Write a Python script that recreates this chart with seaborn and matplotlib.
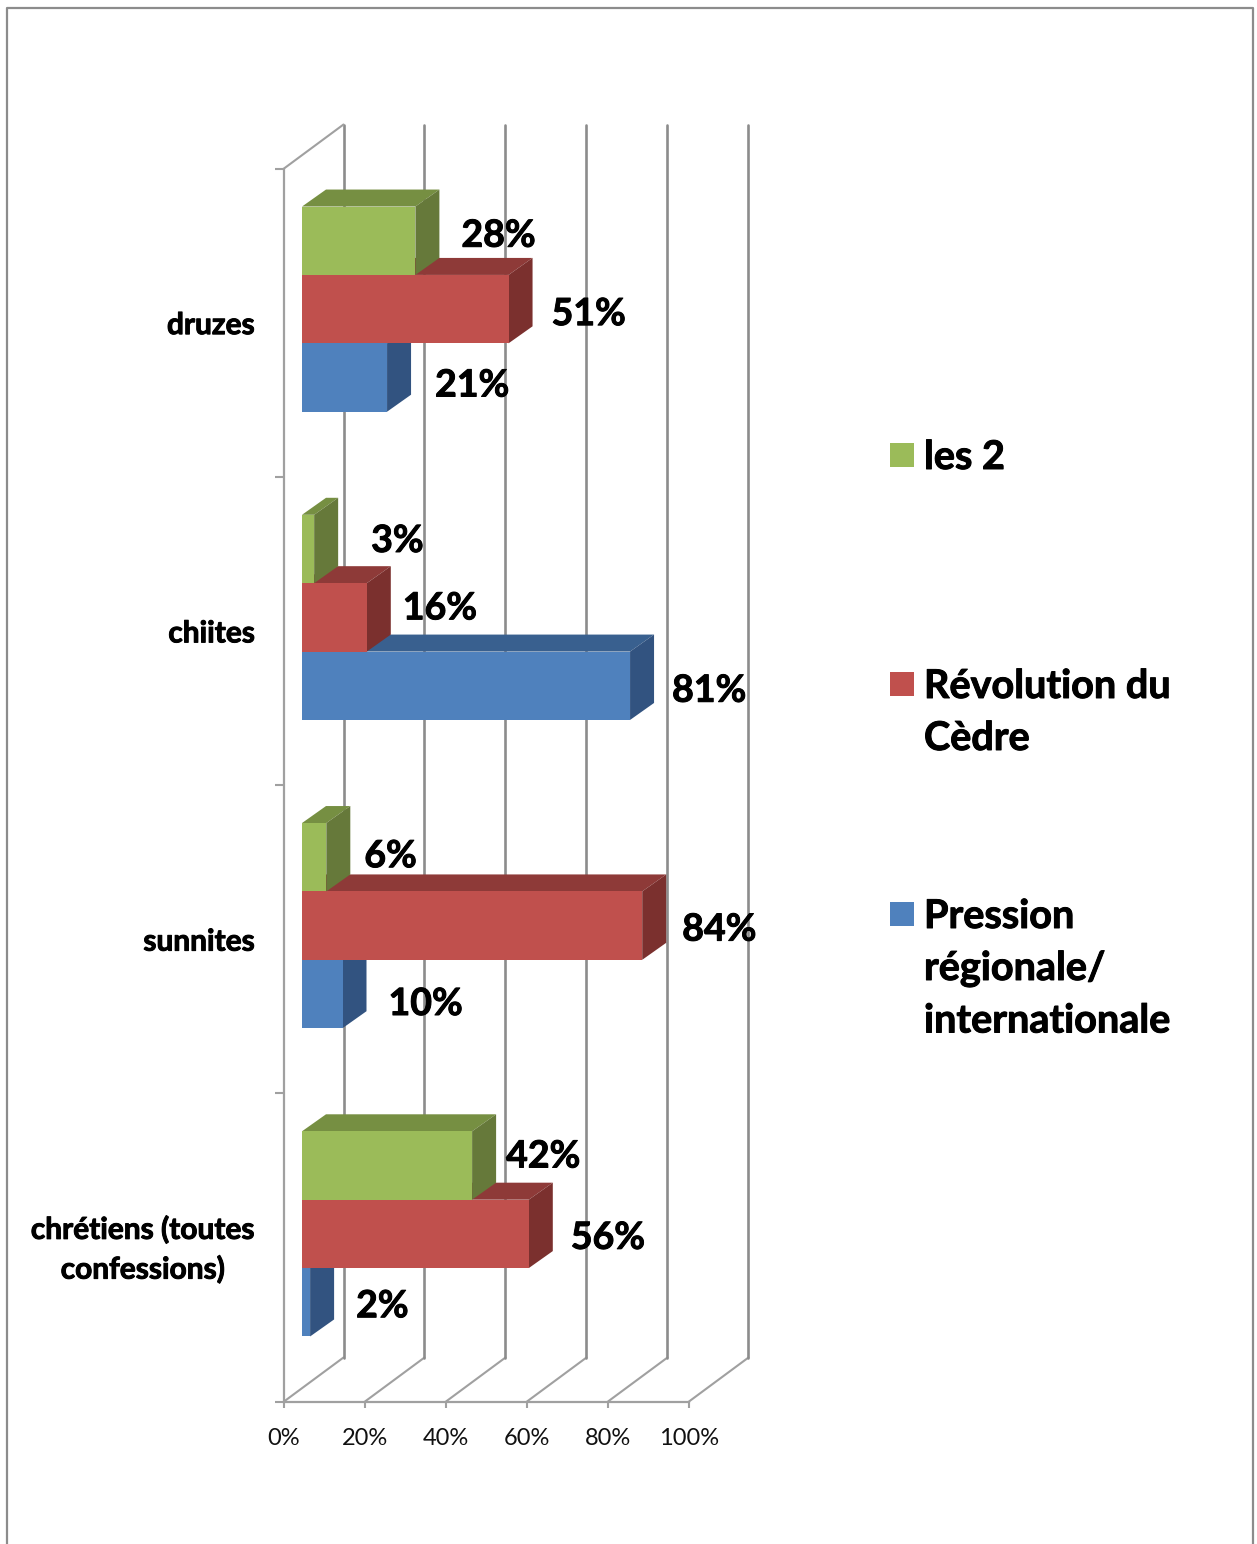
import matplotlib
matplotlib.use("Agg")
import matplotlib.pyplot as plt
import matplotlib.patheffects as pe
from matplotlib.lines import Line2D
from matplotlib.patches import Rectangle
import pandas as pd
import seaborn as sns

# valeurs
groupes = ["druzes", "chiites", "sunnites", "chrétiens (toutes\nconfessions)"]
les_2 = [28, 3, 6, 42]
revolution = [51, 16, 84, 56]
pression = [21, 81, 10, 2]
series = ["les 2", "Révolution du\nCèdre", "Pression\nrégionale/\ninternationale"]
x_ticks = [0, 20, 40, 60, 80, 100]

W, H = 1257, 1544
couleurs = ["#9BBB59", "#C0504D", "#4F81BD"]
dessus = ["#768F42", "#8E3A38", "#39608F"]
cote = ["#66793A", "#7B302E", "#325380"]
GRIS = "#8C8C8C"
gras = [pe.withStroke(linewidth=0.7, foreground="black")]

# decalages des etiquettes (pixels) par rapport au bout de la barre
nudge_x = [[46, 57, 38, 34], [43, 36, 40, 42], [48, 42, 46, 46]]
nudge_y = [[-5, -8, -1, -9], [5, -9, 4, 4], [8, 5, 10, 4]]
# position du texte de legende (pixels, centre de la premiere ligne)
legende_y = [455, 684, 914]


def zone(left, top, right, bottom):
    return [left / W, 1 - bottom / H, (right - left) / W, (bottom - top) / H]


df = pd.DataFrame({
    "groupe": groupes * 3,
    "serie": [s for s in series for _ in groupes],
    "valeur": les_2 + revolution + pression,
})

sns.set_theme(style="white")
plt.rcParams["font.family"] = ["Lato", "DejaVu Sans"]

fig = plt.figure(figsize=(W / 100, H / 100), dpi=100)

# axes du fond : murs et graduations
ax_bg = fig.add_axes(zone(284, 168.5, 689, 1401.5))
ax_bg.set_xlim(0, 100)
ax_bg.set_ylim(3.5, -0.5)
px_x = 100 / 405
px_y = 4 / 1233
mur_x, mur_y = 59.5 * px_x, 44 * px_y

for s in ["top", "right"]:
    ax_bg.spines[s].set_visible(False)
for s in ["left", "bottom"]:
    ax_bg.spines[s].set_color("#A0A0A0")
    ax_bg.spines[s].set_linewidth(1.6)

ax_bg.set_xticks(x_ticks)
ax_bg.set_xticklabels([f"{v}%" for v in x_ticks], fontsize=17, color="#111111")
ax_bg.set_yticks([-0.5, 0.5, 1.5, 2.5, 3.5])
ax_bg.set_yticklabels([])
# le libelle sur deux lignes est un peu plus haut
pos_libelles = [k - (6 * px_y if "\n" in g else 0) for k, g in enumerate(groupes)]
ax_bg.set_yticks(pos_libelles, minor=True)
ax_bg.set_yticklabels(groupes, minor=True, fontsize=21.5, fontweight="bold",
                      color="black", ma="center", linespacing=1.45, path_effects=gras)
ax_bg.tick_params(axis="x", length=4, width=1.5, color="#A0A0A0", pad=14.8, bottom=True)
ax_bg.tick_params(axis="y", which="major", length=6.5, width=1.5, color="#A0A0A0", left=True)
ax_bg.tick_params(axis="y", which="minor", length=0, pad=21)

for v in x_ticks:
    ax_bg.plot([v, v + mur_x], [3.5, 3.5 - mur_y], color="#A0A0A0", lw=1.5, clip_on=False)
    ax_bg.plot([v + mur_x, v + mur_x], [3.5 - mur_y, -0.5 - mur_y], color=GRIS, lw=1.9, clip_on=False)
ax_bg.plot([0, mur_x], [-0.5, -0.5 - mur_y], color="#A0A0A0", lw=1.5, clip_on=False)

# axes des barres, decales vers le milieu de la profondeur
ax = fig.add_axes(zone(302, 155, 707, 1388))
ax.patch.set_alpha(0)
sns.barplot(data=df, x="valeur", y="groupe", hue="serie", order=groupes, hue_order=series,
            palette=couleurs, saturation=1, width=205 / 308, gap=0, linewidth=0,
            errorbar=None, legend=False, orient="h", ax=ax)
ax.set_xlim(0, 100)
ax.set_ylim(3.5, -0.5)
ax.axis("off")

prof_x, prof_y = 24 * px_x, 17 * px_y

for i, conteneur in enumerate(ax.containers):
    for j, bar in enumerate(conteneur):
        # la serie du haut passe devant celle du dessous
        z = 10 + 3 * (2 - i)
        x1 = bar.get_width()
        y0, y1 = bar.get_y(), bar.get_y() + bar.get_height()
        bar.set_zorder(z + 2)
        ax.fill([0, x1, x1 + prof_x, prof_x], [y0, y0, y0 - prof_y, y0 - prof_y],
                color=dessus[i], lw=0, zorder=z, clip_on=False)
        ax.fill([x1, x1 + prof_x, x1 + prof_x, x1], [y0, y0 - prof_y, y1 - prof_y, y1],
                color=cote[i], lw=0, zorder=z + 1, clip_on=False)
        ax.annotate(f"{bar.get_width():.0f}%", xy=(x1, (y0 + y1) / 2),
                    xytext=(nudge_x[i][j] * 0.72, -nudge_y[i][j] * 0.72),
                    textcoords="offset points", ha="left", va="center",
                    fontsize=27, fontweight="bold", color="black", zorder=50,
                    annotation_clip=False, path_effects=gras)

# legende
for nom, c, y in zip(series, couleurs, legende_y):
    fig.add_artist(Rectangle((890 / W, 1 - (y + 12) / H), 24 / W, 24 / H,
                             transform=fig.transFigure, color=c, lw=0))
    fig.text(924 / W, 1 - (y - 16) / H, nom, fontsize=28.5, fontweight="bold", color="black",
             ha="left", va="top", linespacing=1.5, path_effects=gras)

# cadre autour du graphique
fig.add_artist(Line2D([7 / W, 7 / W, 1253 / W, 1253 / W], [0, 1 - 8 / H, 1 - 8 / H, 0],
                      color=GRIS, lw=1.6, transform=fig.transFigure))

fig.savefig("out.png", dpi=100)
